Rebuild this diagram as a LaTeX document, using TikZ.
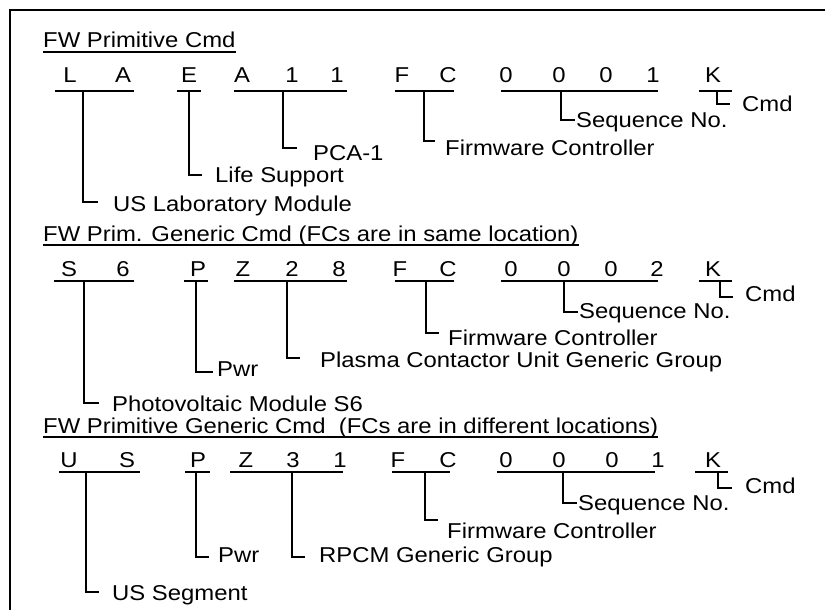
\documentclass[tikz,border=0pt]{standalone}
\usepackage{fontspec}
\setmainfont{Liberation Sans}[FakeStretch=1.11]
\newcommand\lblfont{\fontsize{21.5}{24}\selectfont}
\tikzset{
  lbl/.style={anchor=base west, inner sep=0pt, font=\lblfont},
  chr/.style={anchor=base, inner sep=0pt, font=\lblfont},
  ttl/.style={anchor=base west, inner sep=0pt, font=\lblfont},
  rulel/.style={line width=1.3pt},
  hookl/.style={line width=1.2pt},
  framel/.style={line width=2.5pt}
}
\begin{document}
\begin{tikzpicture}[x=1pt,y=-1pt]
\useasboundingbox (0,0) rectangle (825,610);
% frame
\coordinate (fa) at (825,10); \coordinate (fb) at (10,10); \coordinate (fc) at (10,610);
\draw[framel] (fa) -- (fb) -- (fc);

% ================= Section 1 =================
\node[ttl] (t1) at (43,48) {FW Primitive Cmd};
\draw[rulel] ([yshift=-4pt]t1.base west) -- ([yshift=-4pt]t1.base east);
\node[chr] (a1) at (70,83) {L};
\node[chr] (a2) at (123,83) {A};
\node[chr] (a3) at (189,83) {E};
\node[chr] (a4) at (242,83) {A};
\node[chr] (a5) at (292,83) {1};
\node[chr] (a6) at (337,83) {1};
\node[chr] (a7) at (402,83) {F};
\node[chr] (a8) at (448,83) {C};
\node[chr] (a9) at (506,83) {0};
\node[chr] (a10) at (559,83) {0};
\node[chr] (a11) at (606,83) {0};
\node[chr] (a12) at (653,83) {1};
\node[chr] (a13) at (713,83) {K};
% underlines
\coordinate (a1u) at (55,91);  \coordinate (a2u) at (134,91);
\coordinate (a3u) at (177,91); \coordinate (a3v) at (201,91);
\coordinate (a4u) at (234,91); \coordinate (a6u) at (347,91);
\coordinate (a7u) at (395,91); \coordinate (a8u) at (454,91);
\coordinate (a9u) at (501,91); \coordinate (a12u) at (658,91);
\coordinate (a13u) at (699,91); \coordinate (a13v) at (732,91);
\draw[rulel] (a1u) -- (a2u);
\draw[rulel] (a3u) -- (a3v);
\draw[rulel] (a4u) -- (a6u);
\draw[rulel] (a7u) -- (a8u);
\draw[rulel] (a9u) -- (a12u);
\draw[rulel] (a13u) -- (a13v);
% labels
\node[lbl] (l11) at (113,211) {US Laboratory Module};
\node[lbl] (l12) at (215,182) {Life Support};
\node[lbl] (l13) at (313,160) {PCA-1};
\node[lbl] (l14) at (445,155) {Firmware Controller};
\node[lbl] (l15) at (576,127) {Sequence No.};
\node[lbl] (l16) at (742,111) {Cmd};
% drops
\coordinate (d11) at (83,91);  \coordinate (h11) at (98,202);
\coordinate (d12) at (189,91); \coordinate (h12) at (202,175);
\coordinate (d13) at (283,91); \coordinate (h13) at (297,148);
\coordinate (d14) at (424,91); \coordinate (h14) at (435,141);
\coordinate (d15) at (561,91); \coordinate (h15) at (575,120);
\coordinate (d16) at (717,91); \coordinate (h16) at (730,104);
\draw[hookl] (d11) |- (h11);
\draw[hookl] (d12) |- (h12);
\draw[hookl] (d13) |- (h13);
\draw[hookl] (d14) |- (h14);
\draw[hookl] (d15) |- (h15);
\draw[hookl] (d16) |- (h16);

% ================= Section 2 =================
\node[ttl] (t2) at (43,241) {FW Prim. Generic Cmd (FCs are in same location)};
\draw[rulel] ([yshift=-4pt]t2.base west) -- ([yshift=-4pt]t2.base east);
\node[chr] (b1) at (69,276) {S};
\node[chr] (b2) at (123,276) {6};
\node[chr] (b3) at (198,276) {P};
\node[chr] (b4) at (243,276) {Z};
\node[chr] (b5) at (292,276) {2};
\node[chr] (b6) at (339,276) {8};
\node[chr] (b7) at (400,276) {F};
\node[chr] (b8) at (448,276) {C};
\node[chr] (b9) at (511,276) {0};
\node[chr] (b10) at (564,276) {0};
\node[chr] (b11) at (611,276) {0};
\node[chr] (b12) at (657,276) {2};
\node[chr] (b13) at (713,276) {K};
\coordinate (b1u) at (54,281);  \coordinate (b2u) at (134,281);
\coordinate (b3u) at (184,281); \coordinate (b3v) at (208,281);
\coordinate (b4u) at (234,281); \coordinate (b6u) at (347,281);
\coordinate (b7u) at (395,281); \coordinate (b8u) at (454,281);
\coordinate (b9u) at (501,281); \coordinate (b12u) at (658,281);
\coordinate (b13u) at (699,281); \coordinate (b13v) at (732,281);
\draw[rulel] (b1u) -- (b2u);
\draw[rulel] (b3u) -- (b3v);
\draw[rulel] (b4u) -- (b6u);
\draw[rulel] (b7u) -- (b8u);
\draw[rulel] (b9u) -- (b12u);
\draw[rulel] (b13u) -- (b13v);
\node[lbl] (l21) at (112,411) {Photovoltaic Module S6};
\node[lbl] (l22) at (217,376) {Pwr};
\node[lbl] (l23) at (320,367) {Plasma Contactor Unit Generic Group};
\node[lbl] (l24) at (448,345) {Firmware Controller};
\node[lbl] (l25) at (579,318) {Sequence No.};
\node[lbl] (l26) at (745,301) {Cmd};
\coordinate (d21) at (84,281);  \coordinate (h21) at (99,403);
\coordinate (d22) at (196,281); \coordinate (h22) at (213,372);
\coordinate (d23) at (287,281); \coordinate (h23) at (300,358);
\coordinate (d24) at (426,281); \coordinate (h24) at (439,333);
\coordinate (d25) at (564,281); \coordinate (h25) at (578,312);
\coordinate (d26) at (720,281); \coordinate (h26) at (733,297);
\draw[hookl] (d21) |- (h21);
\draw[hookl] (d22) |- (h22);
\draw[hookl] (d23) |- (h23);
\draw[hookl] (d24) |- (h24);
\draw[hookl] (d25) |- (h25);
\draw[hookl] (d26) |- (h26);

% ================= Section 3 =================
\node[ttl] (t3) at (43,433) {FW Primitive Generic Cmd\ \ (FCs are in different locations)};
\draw[rulel] ([yshift=-4pt]t3.base west) -- ([yshift=-4pt]t3.base east);
\node[chr] (c1) at (69,467) {U};
\node[chr] (c2) at (127,467) {S};
\node[chr] (c3) at (198,467) {P};
\node[chr] (c4) at (246,467) {Z};
\node[chr] (c5) at (293,467) {3};
\node[chr] (c6) at (340,467) {1};
\node[chr] (c7) at (398,467) {F};
\node[chr] (c8) at (448,467) {C};
\node[chr] (c9) at (506,467) {0};
\node[chr] (c10) at (559,467) {0};
\node[chr] (c11) at (612,467) {0};
\node[chr] (c12) at (658,467) {1};
\node[chr] (c13) at (713,467) {K};
\coordinate (c1u) at (59,472);  \coordinate (c2u) at (140,472);
\coordinate (c3u) at (185,472); \coordinate (c3v) at (210,472);
\coordinate (c4u) at (230,472); \coordinate (c6u) at (343,472);
\coordinate (c7u) at (392,472); \coordinate (c8u) at (450,472);
\coordinate (c9u) at (497,472); \coordinate (c12u) at (655,472);
\coordinate (c13u) at (695,472); \coordinate (c13v) at (728,472);
\draw[rulel] (c1u) -- (c2u);
\draw[rulel] (c3u) -- (c3v);
\draw[rulel] (c4u) -- (c6u);
\draw[rulel] (c7u) -- (c8u);
\draw[rulel] (c9u) -- (c12u);
\draw[rulel] (c13u) -- (c13v);
\node[lbl] (l31) at (112,600) {US Segment};
\node[lbl] (l32) at (218,562) {Pwr};
\node[lbl] (l33) at (319,562) {RPCM Generic Group};
\node[lbl] (l34) at (447,538) {Firmware Controller};
\node[lbl] (l35) at (578,510) {Sequence No.};
\node[lbl] (l36) at (745,493) {Cmd};
\coordinate (d31) at (86,472);  \coordinate (h31) at (99,592);
\coordinate (d32) at (196,472); \coordinate (h32) at (209,557);
\coordinate (d33) at (292,472); \coordinate (h33) at (305,557);
\coordinate (d34) at (425,472); \coordinate (h34) at (438,520);
\coordinate (d35) at (563,472); \coordinate (h35) at (577,503);
\coordinate (d36) at (718,472); \coordinate (h36) at (732,488);
\draw[hookl] (d31) |- (h31);
\draw[hookl] (d32) |- (h32);
\draw[hookl] (d33) |- (h33);
\draw[hookl] (d34) |- (h34);
\draw[hookl] (d35) |- (h35);
\draw[hookl] (d36) |- (h36);
\end{tikzpicture}
\end{document}
